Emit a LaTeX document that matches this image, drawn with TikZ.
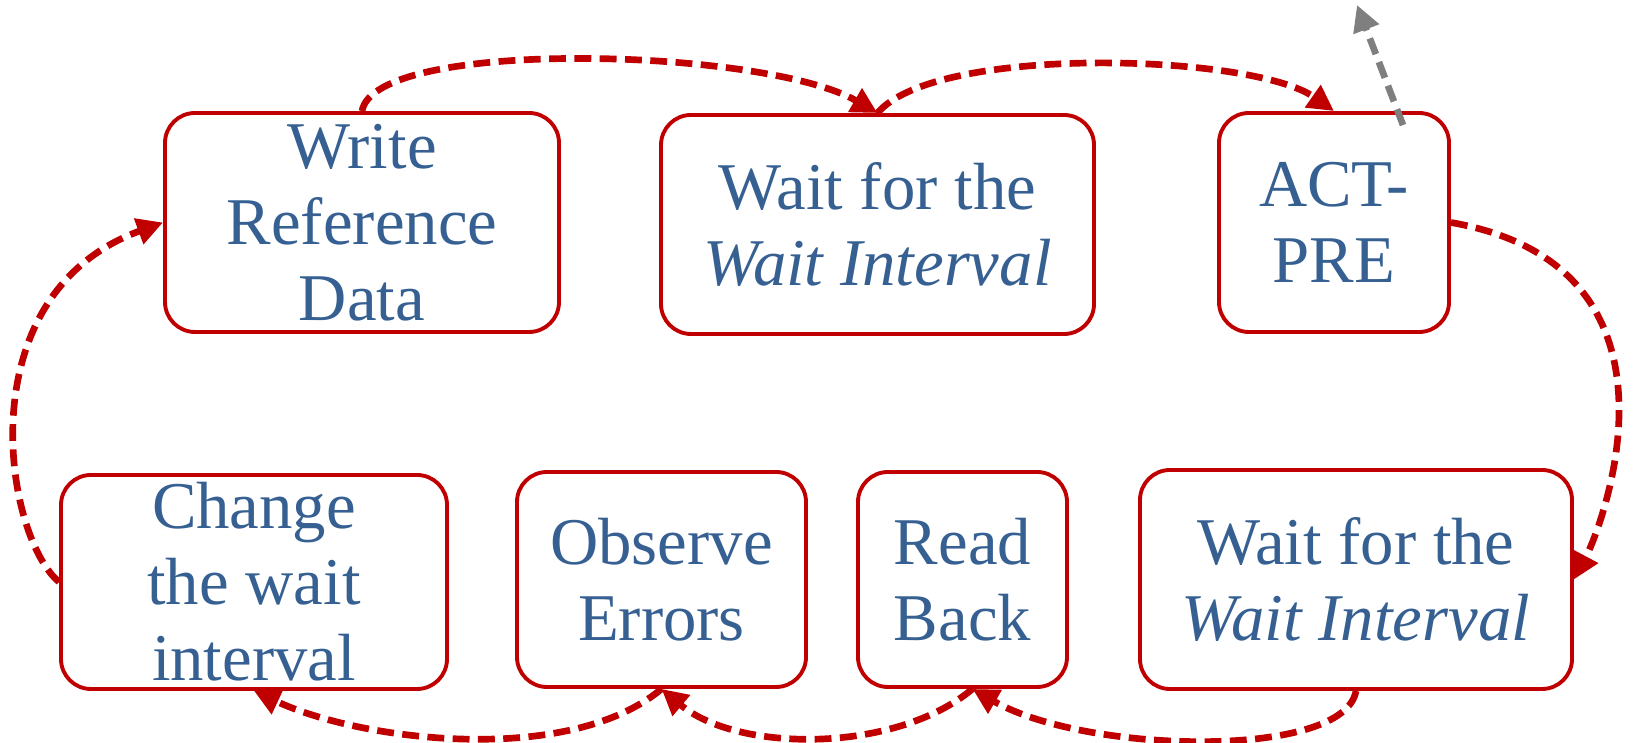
\documentclass[tikz,border=0pt]{standalone}
\usepackage{fontspec}
\setmainfont{Liberation Serif}
\usetikzlibrary{arrows.meta}
\definecolor{boxred}{HTML}{C00000}
\definecolor{txtblue}{HTML}{366092}
\definecolor{outgray}{HTML}{7F7F7F}
\tikzset{
  stepbox/.style={draw=boxred, line width=1.1pt, rounded corners=0.3cm,
    inner sep=0pt, align=center, text=txtblue,
    font=\fontsize{19}{21.6}\selectfont},
  flow/.style={draw=boxred, line width=1.9pt, dash pattern=on 4.8pt off 2.4pt,
    -{Triangle[length=0.26cm,width=0.26cm]}},
  outflow/.style={flow, draw=outgray}
}
\begin{document}
\begin{tikzpicture}
  \useasboundingbox (0, 0) rectangle (16.37, 7.43);

  \node[stepbox, minimum width=3.94cm, minimum height=2.19cm] (write) at (3.62, 5.205) {Write\\Reference\\Data};
  \node[stepbox, minimum width=4.33cm, minimum height=2.19cm] (wait1) at (8.775, 5.185) {Wait for the\\\textit{Wait Interval}};
  \node[stepbox, minimum width=2.30cm, minimum height=2.19cm] (act) at (13.34, 5.205) {ACT-\\PRE};

  \node[stepbox, minimum width=3.86cm, minimum height=2.14cm] (change) at (2.54, 1.61) {Change\\the wait\\interval};
  \node[stepbox, minimum width=2.89cm, minimum height=2.15cm] (observe) at (6.615, 1.635) {Observe\\Errors};
  \node[stepbox, minimum width=2.09cm, minimum height=2.15cm] (readback) at (9.625, 1.635) {Read\\Back};
  \node[stepbox, minimum width=4.32cm, minimum height=2.19cm] (wait2) at (13.56, 1.635) {Wait for the\\\textit{Wait Interval}};

  \coordinate (out) at (13.57, 7.38);

  \draw[flow] (write.north) .. controls +(80:0.75) and +(150:1.3) .. (wait1.north);
  \draw[flow] (wait1.north) .. controls +(50:0.9) and +(145:1.0) .. (act.north);
  \draw[flow] (act.east) .. controls +(-10:2.55) and +(62:0.6) .. (wait2.east);
  \draw[flow] (wait2.south) .. controls +(-100:0.7) and +(-30:1.3) .. ([xshift=1mm]readback.south);
  \draw[flow] ([xshift=1mm]readback.south) .. controls +(-140:1) and +(-40:1) .. (observe.south);
  \draw[flow] (observe.south) .. controls +(-140:1.2) and +(-25:1.2) .. (change.south);
  \draw[flow] (change.west) .. controls +(140:0.72) and +(200:2.1) .. (write.west);

  \draw[outflow] ([shift={(0.69,-0.14)}]act.north) -- (out);
\end{tikzpicture}
\end{document}
